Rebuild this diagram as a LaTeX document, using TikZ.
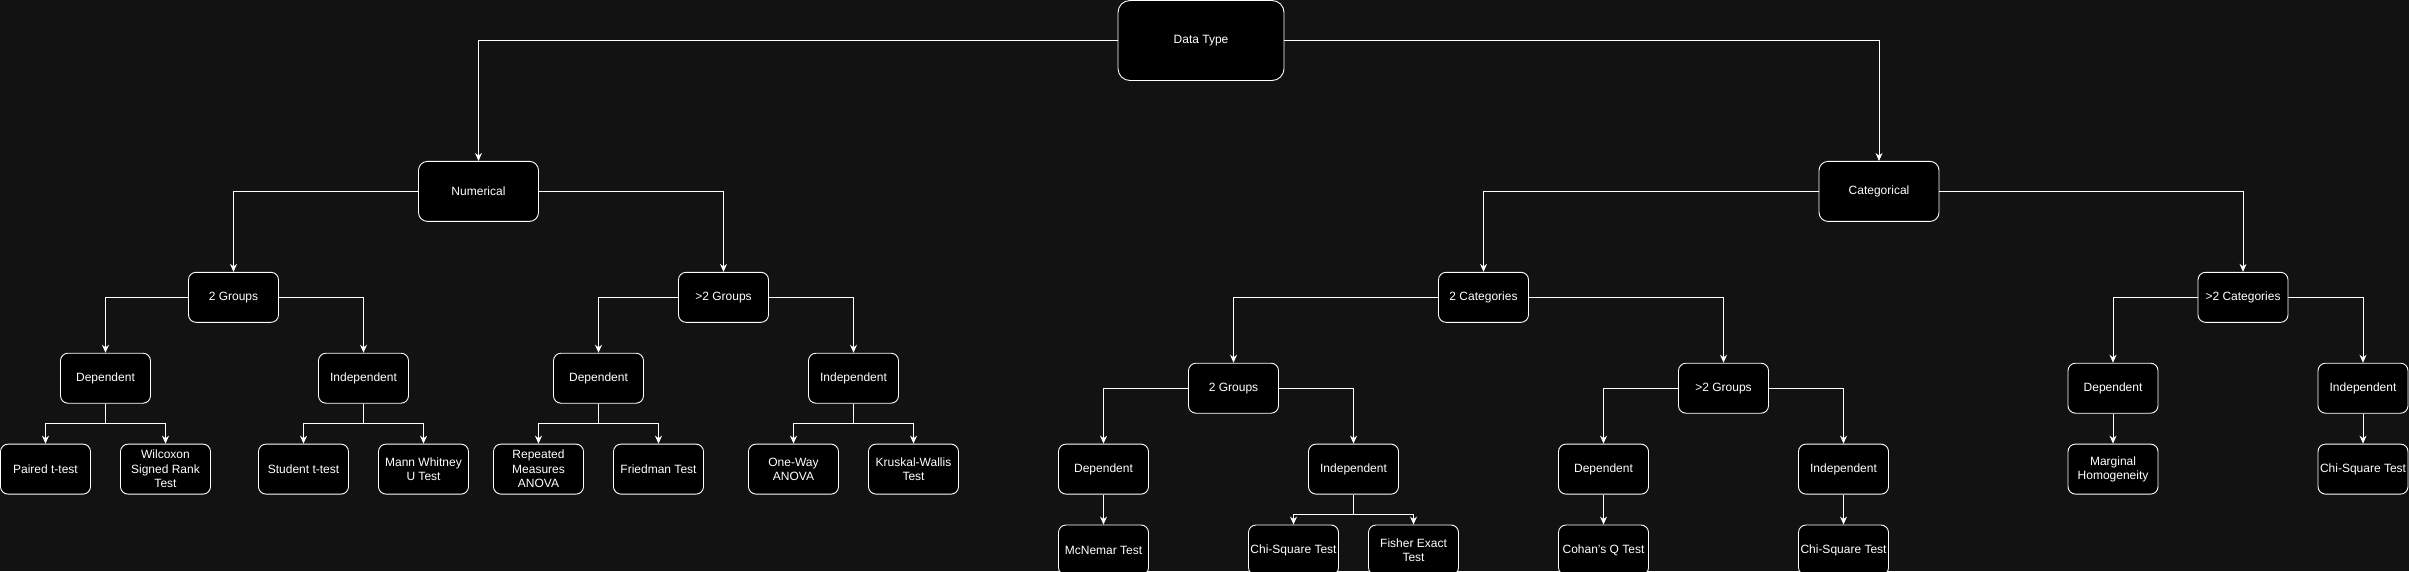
\documentclass[tikz,border=0pt]{standalone}
\usepackage{fontspec}
\setmainfont{Liberation Sans}
\usepackage{xcolor}
\usetikzlibrary{arrows.meta,positioning}
\definecolor{canvas}{HTML}{121212}

\begin{document}
\begin{tikzpicture}[x=1pt,y=-1pt,>={Stealth[length=8pt,width=7pt]},
  n/.style={draw=white,fill=black,text=white,rounded corners=7.5pt,align=center,
    font=\fontsize{12}{14.4}\selectfont,inner sep=1pt,line width=0.9pt,
    minimum width=90pt,minimum height=50pt},
  mid/.style={n,minimum width=120pt,minimum height=60pt,rounded corners=9pt},
  root/.style={n,minimum width=166pt,minimum height=80pt,rounded corners=12pt},
  e/.style={->,white,line width=0.9pt}]
\useasboundingbox (0,0) rectangle (2409,571);
\fill[canvas] (0,0) rectangle (2409,571);
\node[root] (dt) at (1201,40.5) {Data Type};
\node[mid, below=80pt of dt, xshift=-722.5pt] (num) {Numerical};
\node[mid, below=80pt of dt, xshift=678pt] (cat) {Categorical};
% numerical branch
\node[n, below=50pt of num, xshift=-245pt] (ntwo) {2 Groups};
\node[n, below=50pt of num, xshift=245pt] (nmore) {>2 Groups};
\node[n, below=30pt of ntwo, xshift=-128pt] (ntdep) {Dependent};
\node[n, below=30pt of ntwo, xshift=130pt] (ntind) {Independent};
\node[n, below=30pt of nmore, xshift=-125pt] (nmdep) {Dependent};
\node[n, below=30pt of nmore, xshift=130pt] (nmind) {Independent};
\node[n, below=40pt of ntdep, xshift=-60pt] (paired) {Paired t-test};
\node[n, below=40pt of ntdep, xshift=60pt] (wilcox) {Wilcoxon\\Signed Rank\\Test};
\node[n, below=40pt of ntind, xshift=-60pt] (student) {Student t-test};
\node[n, below=40pt of ntind, xshift=60pt] (mann) {Mann Whitney\\U Test};
\node[n, below=40pt of nmdep, xshift=-60pt] (rmanova) {Repeated\\Measures\\ANOVA};
\node[n, below=40pt of nmdep, xshift=60pt] (friedman) {Friedman Test};
\node[n, below=40pt of nmind, xshift=-60pt] (oneway) {One-Way\\ANOVA};
\node[n, below=40pt of nmind, xshift=60pt] (kruskal) {Kruskal-Wallis\\Test};
% categorical branch
\node[n, below=50pt of cat, xshift=-395.5pt] (ctwo) {2 Categories};
\node[n, below=50pt of cat, xshift=364pt] (cmore) {>2 Categories};
\node[n, below=40pt of ctwo, xshift=-250pt] (cgtwo) {2 Groups};
\node[n, below=40pt of ctwo, xshift=240pt] (cgmore) {>2 Groups};
\node[n, below=30pt of cgtwo, xshift=-130pt] (ctdep) {Dependent};
\node[n, below=30pt of cgtwo, xshift=120pt] (ctind) {Independent};
\node[n, below=30pt of cgmore, xshift=-120pt] (cmdep) {Dependent};
\node[n, below=30pt of cgmore, xshift=120pt] (cmind) {Independent};
\node[n, below=30pt of ctdep] (mcnemar) {McNemar Test};
\node[n, below=30pt of ctind, xshift=-60pt] (chisq) {Chi-Square Test};
\node[n, below=30pt of ctind, xshift=60pt] (fisher) {Fisher Exact\\Test};
\node[n, below=30pt of cmdep] (cochran) {Cohan's Q Test};
\node[n, below=30pt of cmind] (chisqb) {Chi-Square Test};
\node[n, below=40pt of cmore, xshift=-130pt] (kdep) {Dependent};
\node[n, below=40pt of cmore, xshift=120pt] (kind) {Independent};
\node[n, below=30pt of kdep] (marginal) {Marginal\\Homogeneity};
\node[n, below=30pt of kind] (chisqc) {Chi-Square Test};
% connectors
\draw[e] (dt) -| (num);
\draw[e] (dt) -| (cat);
\draw[e] (num) -| (ntwo);
\draw[e] (num) -| (nmore);
\draw[e] (ntwo) -| (ntdep);
\draw[e] (ntwo) -| (ntind);
\draw[e] (nmore) -| (nmdep);
\draw[e] (nmore) -| (nmind);
\draw[e] (ntdep.south) -- ++(0,20) -| (paired);
\draw[e] (ntdep.south) -- ++(0,20) -| (wilcox);
\draw[e] (ntind.south) -- ++(0,20) -| (student);
\draw[e] (ntind.south) -- ++(0,20) -| (mann);
\draw[e] (nmdep.south) -- ++(0,20) -| (rmanova);
\draw[e] (nmdep.south) -- ++(0,20) -| (friedman);
\draw[e] (nmind.south) -- ++(0,20) -| (oneway);
\draw[e] (nmind.south) -- ++(0,20) -| (kruskal);
\draw[e] (cat) -| (ctwo);
\draw[e] (cat) -| (cmore);
\draw[e] (ctwo) -| (cgtwo);
\draw[e] (ctwo) -| (cgmore);
\draw[e] (cgtwo) -| (ctdep);
\draw[e] (cgtwo) -| (ctind);
\draw[e] (cgmore) -| (cmdep);
\draw[e] (cgmore) -| (cmind);
\draw[e] (ctdep) -- (mcnemar);
\draw[e] (ctind.south) -- ++(0,20) -| (chisq);
\draw[e] (ctind.south) -- ++(0,20) -| (fisher);
\draw[e] (cmdep) -- (cochran);
\draw[e] (cmind) -- (chisqb);
\draw[e] (cmore) -| (kdep);
\draw[e] (cmore) -| (kind);
\draw[e] (kdep) -- (marginal);
\draw[e] (kind) -- (chisqc);
\end{tikzpicture}
\end{document}
